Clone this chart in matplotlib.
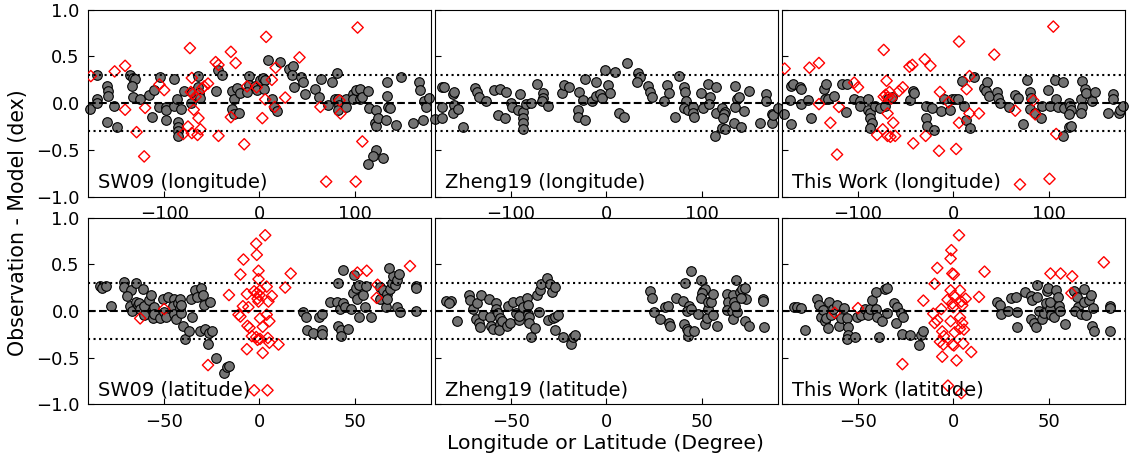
import numpy as np
import matplotlib.pyplot as plt

# residuals (observation - model) vs galactic longitude / latitude
sw09_lon = np.array([
    (-178, -0.06), (-170, 0.30), (-170, 0.04), (-170, 0.00), (-160, 0.18), (-159, 0.13), (-159, 0.08), (-160, -0.20),
    (-153, -0.03), (-149, -0.26), (-136, 0.30), (-133, 0.27), (-131, 0.26), (-134, 0.18), (-133, 0.07), (-125, 0.04),
    (-116, 0.09), (-111, 0.14), (-113, -0.15), (-105, -0.04), (-104, 0.28), (-98, -0.04), (-98, -0.07), (-98, -0.18),
    (-90, 0.26), (-90, -0.03), (-87, 0.05), (-86, -0.20), (-86, -0.25), (-85, -0.30), (-85, -0.35), (-82, -0.06),
    (-79, 0.13), (-72, 0.00), (-71, 0.12), (-65, 0.29), (-65, 0.17), (-63, 0.11), (-62, 0.06), (-46, 0.13),
    (-43, 0.35), (-39, 0.30), (-29, 0.13), (-27, 0.04), (-29, -0.06), (-27, -0.12), (-24, 0.16), (-20, 0.11),
    (-21, -0.11), (-11, 0.29), (-11, 0.20), (-13, 0.12), (-5, 0.18), (-3, 0.14), (1, 0.25), (4, 0.27),
    (6, 0.25), (5, 0.15), (9, 0.46), (13, 0.05), (15, -0.04), (18, -0.08), (22, 0.44), (31, 0.37),
    (35, 0.40), (34, 0.30), (36, 0.17), (44, 0.28), (46, 0.23), (48, 0.10), (58, 0.15), (63, 0.07),
    (65, 0.26), (72, -0.02), (76, 0.23), (81, 0.32), (79, 0.04), (82, 0.04), (84, -0.02), (82, -0.07),
    (91, 0.04), (91, -0.04), (98, 0.10), (98, 0.04), (101, 0.14), (106, 0.15), (106, 0.04), (108, 0.07),
    (114, 0.13), (115, -0.05), (121, -0.21), (122, -0.24), (122, -0.07), (124, -0.16), (122, -0.50), (119, -0.57),
    (114, -0.65), (130, -0.59), (134, 0.23), (134, 0.08), (135, -0.04), (137, -0.05), (133, -0.18), (143, -0.23),
    (149, 0.28), (161, -0.21), (167, 0.23), (168, 0.14), (172, -0.18), (173, 0.02), (175, -0.04), (178, 0.06)])

sw09_lon_red = np.array([
    (-177, 0.29), (-152, 0.34), (-141, 0.40), (-141, -0.07), (-129, -0.31), (-121, -0.57), (-120, -0.05), (-105, 0.20),
    (-100, 0.14), (-73, 0.59), (-71, 0.27), (-72, 0.12), (-70, 0.10), (-67, 0.07), (-69, -0.07), (-75, -0.25),
    (-80, -0.33), (-71, -0.32), (-65, -0.34), (-62, -0.28), (-64, -0.16), (-60, 0.16), (-58, 0.18), (-54, 0.21),
    (-46, 0.44), (-43, 0.41), (-43, -0.35), (-30, 0.55), (-25, 0.43), (-30, -0.15), (-16, -0.44), (-13, 0.18),
    (-3, 0.17), (3, -0.16), (7, 0.71), (6, 0.04), (13, 0.25), (17, 0.38), (16, -0.04), (27, 0.06),
    (42, 0.49), (64, -0.04), (70, -0.84), (84, 0.03), (85, -0.11), (101, -0.84), (103, 0.81), (108, -0.41)])

zheng_lon = np.array([
    (-180, -0.17), (-172, 0.17), (-170, 0.17), (-173, -0.04), (-172, -0.16), (-161, 0.10), (-160, 0.12), (-160, -0.02),
    (-161, -0.11), (-156, -0.06), (-151, -0.26), (-138, 0.16), (-136, 0.12), (-134, 0.07), (-126, 0.02), (-118, 0.14),
    (-112, 0.15), (-105, 0.12), (-114, -0.13), (-106, -0.16), (-100, 0.00), (-99, -0.04), (-91, 0.10), (-93, -0.07),
    (-88, -0.09), (-87, -0.16), (-87, -0.21), (-88, -0.28), (-84, -0.01), (-79, 0.00), (-73, 0.21), (-67, 0.11),
    (-67, 0.06), (-68, 0.02), (-61, -0.03), (-47, 0.11), (-44, 0.20), (-39, 0.17), (-29, 0.12), (-30, -0.07),
    (-30, -0.15), (-22, -0.18), (-25, 0.03), (-22, 0.26), (-11, 0.23), (-15, 0.02), (-11, 0.08), (-7, 0.10),
    (-5, 0.06), (-1, 0.35), (9, 0.33), (2, 0.20), (4, 0.11), (13, -0.11), (18, -0.15), (22, 0.43),
    (33, 0.32), (35, 0.28), (32, 0.23), (44, 0.18), (46, 0.12), (48, 0.07), (60, 0.02), (64, 0.20),
    (66, 0.11), (72, -0.15), (76, 0.29), (81, 0.17), (82, 0.12), (84, 0.02), (81, -0.05), (86, -0.07),
    (91, -0.04), (91, -0.11), (92, -0.15), (99, 0.11), (101, -0.05), (107, 0.21), (109, 0.07), (108, -0.01),
    (115, 0.17), (115, -0.11), (114, -0.35), (121, -0.05), (124, -0.09), (123, -0.12), (122, -0.16), (121, -0.27),
    (124, -0.28), (135, 0.18), (137, 0.05), (139, 0.07), (135, -0.04), (134, -0.21), (141, -0.26), (144, -0.08),
    (150, 0.13), (161, -0.21), (168, 0.10), (168, 0.02), (174, -0.12), (174, -0.21), (175, -0.13), (180, -0.05)])

this_lon = np.array([
    (-178, -0.12), (-170, 0.18), (-168, 0.21), (-171, 0.03), (-170, -0.22), (-161, 0.17), (-160, 0.15), (-160, -0.01),
    (-153, 0.03), (-149, -0.16), (-136, 0.15), (-134, 0.21), (-135, 0.04), (-132, 0.04), (-125, 0.08), (-117, 0.21),
    (-112, 0.21), (-113, -0.09), (-104, 0.05), (-98, 0.02), (-98, -0.03), (-89, 0.04), (-90, -0.07), (-87, -0.11),
    (-87, -0.16), (-85, -0.21), (-87, -0.27), (-82, -0.03), (-77, -0.05), (-72, -0.03), (-68, 0.04), (-64, 0.07),
    (-45, 0.03), (-42, 0.13), (-41, 0.11), (-29, -0.03), (-29, -0.16), (-28, -0.24), (-22, -0.05), (-20, -0.29),
    (-10, 0.04), (-13, -0.08), (-3, -0.07), (-1, 0.05), (2, 0.04), (5, 0.05), (9, 0.24), (22, 0.28),
    (11, -0.03), (13, -0.18), (18, -0.27), (32, 0.16), (35, 0.23), (34, 0.13), (37, 0.08), (46, 0.12),
    (47, 0.06), (49, 0.00), (59, -0.04), (65, 0.09), (68, 0.06), (73, -0.22), (77, 0.25), (81, 0.12),
    (82, 0.06), (81, -0.06), (86, -0.11), (92, -0.16), (93, -0.03), (101, -0.03), (99, 0.14), (107, 0.25),
    (115, 0.23), (108, 0.04), (110, -0.04), (116, -0.05), (121, 0.00), (123, -0.03), (124, -0.07), (121, -0.12),
    (115, -0.35), (121, -0.26), (124, -0.24), (134, 0.04), (135, 0.24), (138, 0.15), (139, 0.11), (135, -0.04),
    (134, -0.11), (146, 0.02), (149, 0.12), (162, -0.11), (168, 0.10), (168, 0.04), (174, -0.11), (175, -0.07),
    (178, -0.03)])

this_lon_red = np.array([
    (-177, 0.37), (-151, 0.38), (-141, 0.43), (-141, -0.01), (-129, -0.21), (-122, -0.55), (-120, -0.04), (-104, 0.22),
    (-100, 0.17), (-73, 0.57), (-70, 0.24), (-71, 0.09), (-69, 0.06), (-65, 0.05), (-73, 0.07), (-67, 0.12),
    (-69, -0.11), (-63, -0.21), (-74, -0.28), (-80, -0.34), (-69, -0.35), (-66, -0.36), (-61, -0.35), (-57, 0.13),
    (-53, 0.17), (-46, 0.39), (-43, 0.41), (-42, -0.43), (-30, 0.47), (-24, 0.40), (-29, -0.35), (-15, -0.51),
    (-14, 0.12), (-5, 0.01), (3, -0.49), (6, 0.66), (6, -0.21), (14, 0.15), (17, 0.29), (17, -0.11),
    (27, -0.11), (43, 0.52), (65, -0.08), (70, -0.87), (84, 0.03), (86, -0.12), (101, -0.81), (105, 0.82),
    (108, -0.33)])

sw09_lat = np.array([
    (-83.6, 0.27), (-82.7, 0.24), (-80.4, 0.27), (-78, 0.05), (-71, 0.31), (-71, 0.26), (-67.5, 0.22), (-69.6, 0.16),
    (-65, 0.30), (-61, 0.23), (-68, 0.05), (-67, 0.00), (-65, 0.10), (-64, 0.06), (-63, 0.08), (-62.6, 0.02),
    (-60.5, 0.05), (-60.5, -0.04), (-58, 0.12), (-57, 0.17), (-56, -0.08), (-56, 0.01), (-55.6, 0.04), (-55.6, -0.03),
    (-52, -0.08), (-50, -0.01), (-49, -0.06), (-50.7, 0.13), (-48, 0.15), (-44.8, 0.13), (-45.5, 0.05), (-45, -0.03),
    (-44, -0.09), (-43, 0.08), (-41.6, 0.13), (-41.6, 0.03), (-41, -0.02), (-41.4, 0.06), (-40, -0.16), (-39, -0.30),
    (-37, -0.22), (-35.5, -0.07), (-36, 0.13), (-34, 0.22), (-33, 0.15), (-30.8, 0.24), (-29.7, 0.17), (-29, 0.06),
    (-26, 0.10), (-31, -0.21), (-28.5, -0.19), (-26.7, -0.24), (-25, -0.22), (-27, -0.35), (-23, -0.50), (-18.5, -0.66),
    (-17, -0.60), (-16, -0.59), (23, -0.01), (24.5, -0.07), (24.8, -0.20), (28, -0.24), (31, -0.06), (32.7, -0.03),
    (33, -0.20), (33, -0.25), (37, 0.10), (40.5, 0.10), (41.4, 0.30), (41, -0.16), (42.7, -0.20), (42.7, -0.27),
    (42.3, 0.02), (43.7, 0.08), (44, 0.44), (45, 0.04), (46.7, -0.19), (48, 0.02), (49, 0.19), (49.7, 0.38),
    (50.7, 0.24), (51.4, 0.13), (52.4, 0.28), (52, -0.07), (54.5, 0.17), (55.4, 0.04), (56, 0.27), (58.4, -0.07),
    (63, 0.26), (64.7, 0.22), (63, 0.13), (67, 0.18), (68.5, 0.23), (69.4, 0.30), (70, 0.37), (68, 0.46),
    (66.4, 0.04), (67, 0.13), (71, 0.28), (72, 0.33), (73, 0.40), (72, 0.04), (74, -0.01), (82, 0.27),
    (82, 0.25), (82, 0.00)])

sw09_lat_red = np.array([
    (-62.6, -0.08), (-50, 0.02), (-27, -0.58), (-16, 0.17), (-10, 0.39), (-8.4, 0.55), (-11, -0.04), (-10, -0.06),
    (-8.7, 0.05), (-6.6, 0.18), (-5.8, 0.04), (-6.3, -0.16), (-5.2, -0.18), (-4, -0.27), (-6.6, -0.41), (-1.7, 0.72),
    (-1.4, 0.60), (-0.5, 0.43), (-0.5, 0.34), (3, 0.81), (-2.8, 0.21), (-1.4, 0.19), (0, 0.17), (0.3, 0.22),
    (-1, 0.13), (-0.5, 0.10), (3.8, 0.26), (-1.7, -0.28), (-1, -0.31), (0.3, -0.30), (1.7, -0.17), (0.3, -0.08),
    (1.7, -0.45), (3.8, -0.04), (5.2, -0.11), (4.4, -0.29), (5.2, -0.34), (4.7, 0.10), (6.5, 0.16), (10, -0.36),
    (13.5, 0.25), (16.4, 0.40), (-2.8, -0.85), (4.2, -0.85), (51.4, 0.41), (56.3, 0.43), (62, 0.28), (61.5, 0.14),
    (79, 0.48)])

zheng_lat = np.array([
    (-83.9, 0.11), (-81.6, 0.11), (-82.8, 0.09), (-78.6, -0.11), (-72, 0.17), (-71.6, 0.12), (-69.8, 0.02), (-68, 0.09),
    (-65.8, 0.17), (-68.4, -0.09), (-67, -0.13), (-66.3, -0.17), (-64.9, -0.04), (-61.8, 0.13), (-61, -0.06), (-60.5, -0.16),
    (-59.6, -0.19), (-58, 0.08), (-57.9, 0.02), (-57, -0.02), (-56, -0.08), (-56, -0.14), (-56.5, -0.20), (-55, -0.11),
    (-52, -0.16), (-50.5, -0.13), (-51.7, 0.05), (-48.8, 0.10), (-47.4, -0.02), (-46, -0.10), (-46, -0.05), (-45.3, 0.11),
    (-43.9, 0.04), (-41.8, 0.14), (-41.2, 0.06), (-41.2, -0.03), (-40.7, -0.07), (-40.4, -0.13), (-39.5, -0.28), (-37.7, -0.18),
    (-36.5, 0.17), (-35.4, -0.01), (-34.7, 0.22), (-34.2, 0.29), (-31.2, 0.35), (-29.5, 0.29), (-28.4, 0.20), (-26.7, 0.26),
    (-30.7, -0.10), (-28, -0.08), (-27, -0.07), (-25.4, -0.04), (-27, -0.20), (-23, -0.28), (-18.4, -0.35), (-17.5, -0.28),
    (-16.7, -0.26), (22.8, 0.21), (24.2, 0.14), (25, -0.01), (28, -0.09), (30.7, 0.04), (32.5, 0.05), (33, -0.13),
    (33.3, -0.16), (36.8, 0.14), (40.4, 0.11), (41.2, 0.30), (40.7, -0.14), (42.1, -0.19), (42.6, -0.27), (43, -0.22),
    (43.5, 0.05), (44.2, 0.43), (42.1, 0.00), (44.5, 0.02), (46, -0.21), (48.2, -0.03), (49.5, 0.33), (50.9, 0.21),
    (51.8, 0.23), (50, 0.19), (49.5, 0.14), (51.8, -0.14), (52.6, -0.08), (53.5, 0.02), (53.5, 0.10), (54.7, 0.10),
    (55.8, 0.18), (55.8, -0.04), (58.2, -0.16), (63.2, 0.18), (64, 0.10), (63.5, 0.01), (65.8, 0.00), (66.3, -0.09),
    (66.7, 0.17), (67, 0.10), (68.4, -0.01), (68, 0.33), (70, 0.20), (71, 0.23), (72.8, 0.24), (73.3, 0.13),
    (72.8, -0.11), (74.6, -0.16), (70.5, 0.14), (67.5, 0.05), (82, 0.13), (82, 0.11), (82.5, -0.17)])

this_lat = np.array([
    (-83.6, 0.04), (-82.2, 0.04), (-80, 0.03), (-78, -0.20), (-71.3, 0.13), (-70.5, 0.06), (-69.6, -0.06), (-68.2, 0.01),
    (-67.5, -0.11), (-67, -0.08), (-65.7, -0.18), (-65.2, 0.10), (-64.3, -0.04), (-63, 0.02), (-60.8, 0.06), (-60, -0.16),
    (-58.7, -0.08), (-57.3, 0.03), (-56, -0.08), (-55.2, -0.17), (-55.2, -0.26), (-56, -0.30), (-51.7, -0.28), (-50.7, -0.07),
    (-48.3, -0.04), (-46.5, 0.02), (-45, -0.04), (-43.7, 0.02), (-42.5, 0.12), (-40.7, 0.20), (-40.7, 0.02), (-39.9, -0.06),
    (-39, -0.28), (-37.2, -0.11), (-36, 0.23), (-34.6, 0.24), (-34.6, -0.02), (-31, 0.09), (-30.2, -0.13), (-29.4, 0.04),
    (-27.6, -0.02), (-26.5, -0.07), (-26.7, -0.25), (-22.7, -0.26), (-18, -0.36), (-16.8, -0.26), (-15.7, -0.22), (23, 0.10),
    (24.5, 0.06), (25.2, -0.03), (28.7, 0.00), (30.4, 0.14), (32.7, 0.15), (33.6, -0.01), (33.6, -0.17), (37.4, 0.20),
    (41, 0.16), (41.4, 0.12), (40.6, -0.09), (42.3, -0.13), (43.2, -0.17), (44, 0.28), (44, 0.15), (45, 0.00),
    (46.7, -0.09), (47.6, -0.02), (48.4, 0.08), (49, 0.21), (49.6, 0.24), (50.7, 0.02), (51, 0.10), (51.4, -0.04),
    (53, -0.07), (53.7, 0.22), (55, 0.15), (55.4, 0.05), (56, 0.00), (58.4, -0.14), (63.3, 0.21), (64.7, 0.15),
    (65.4, 0.04), (64, 0.00), (66.8, -0.03), (68.5, 0.23), (68.5, 0.10), (69.4, -0.04), (71, 0.12), (72.4, 0.17),
    (73.4, 0.03), (72.9, -0.16), (74, -0.22), (82.2, 0.05), (82.5, 0.03), (82.5, -0.22)])

this_lat_red = np.array([
    (-62.2, -0.02), (-50, 0.03), (-26.7, -0.57), (-15.7, 0.11), (-9.8, 0.29), (-8.4, 0.46), (-10.5, -0.03), (-9.8, -0.13),
    (-8.4, -0.10), (-6.3, 0.02), (-5.8, -0.22), (-5.8, -0.49), (-4.9, -0.27), (-7, -0.33), (-5.2, -0.36), (-3, 0.12),
    (-1.4, 0.22), (-1, 0.65), (-1.4, 0.56), (-0.5, 0.40), (0.3, 0.39), (-0.5, 0.08), (0.3, 0.16), (0, 0.04),
    (-1.4, -0.11), (-0.5, -0.36), (0.3, -0.37), (0.7, -0.23), (1.7, -0.53), (3, 0.81), (3.5, 0.22), (4.2, 0.10),
    (4.7, 0.06), (3.5, -0.07), (3.5, -0.19), (4.7, -0.13), (5.6, -0.20), (5.2, -0.35), (6.5, 0.13), (9.4, -0.44),
    (13.5, 0.15), (16.4, 0.42), (-2.8, -0.80), (4.2, -0.88), (51, 0.40), (56.3, 0.40), (62.4, 0.37), (62, 0.19),
    (79, 0.52)])

labels = ['SW09 (longitude)', 'Zheng19 (longitude)', 'This Work (longitude)',
          'SW09 (latitude)', 'Zheng19 (latitude)', 'This Work (latitude)']
gray_sets = [sw09_lon, zheng_lon, this_lon, sw09_lat, zheng_lat, this_lat]
red_sets = [sw09_lon_red, None, this_lon_red, sw09_lat_red, None, this_lat_red]

fig, axes = plt.subplots(2, 3, figsize=(11.35, 4.57), dpi=100, sharey=True)
fig.subplots_adjust(left=0.0775, right=0.991, top=0.9786, bottom=0.1153,
                    wspace=0.0114, hspace=0.112)

for i, ax in enumerate(axes.flat):
    g = gray_sets[i]
    ax.scatter(g[:, 0], g[:, 1], s=48, c='#737373', edgecolors='k',
               linewidths=0.8, zorder=2, clip_on=False)
    r = red_sets[i]
    if r is not None:
        ax.scatter(r[:, 0], r[:, 1], s=33, marker='D', facecolors='none',
                   edgecolors='red', linewidths=1.0, zorder=3)
    ax.axhline(0, color='k', ls='--', lw=1.5, zorder=4)
    ax.axhline(0.3, color='k', ls=':', lw=1.5, zorder=4)
    ax.axhline(-0.3, color='k', ls=':', lw=1.5, zorder=4)

    if i < 3:
        ax.set_xlim(-180, 180)
        ax.set_xticks([-100, 0, 100])
    else:
        ax.set_xlim(-90, 90)
        ax.set_xticks([-50, 0, 50])
    ax.set_ylim(-1, 1)
    ax.set_yticks([-1, -0.5, 0, 0.5, 1])
    ax.tick_params(direction='in', length=4, labelsize=13, pad=6)
    ax.text(0.03, 0.045, labels[i], transform=ax.transAxes, fontsize=14,
            va='baseline', ha='left', zorder=5)

fig.text(0.016, 0.512, 'Observation - Model (dex)', rotation=90,
         ha='center', va='center', fontsize=14.8)
fig.text(0.533, 0.0175, 'Longitude or Latitude (Degree)',
         ha='center', va='baseline', fontsize=14.7)

plt.savefig('out.png', dpi=100)
